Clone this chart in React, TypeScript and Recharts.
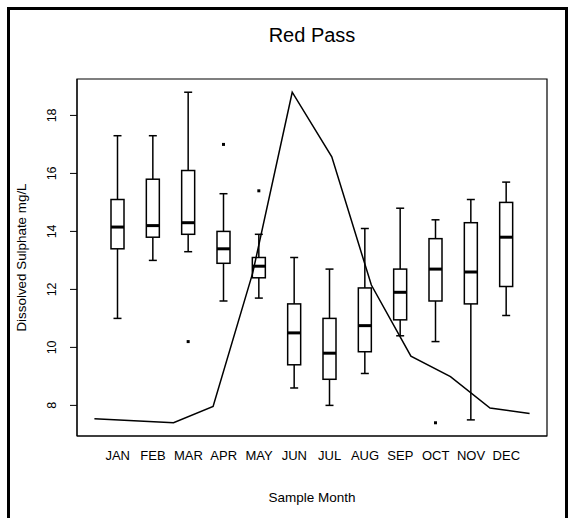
import { ComposedChart, Bar, Line, XAxis, YAxis, ReferenceArea } from "recharts";

const months = ["JAN", "FEB", "MAR", "APR", "MAY", "JUN", "JUL", "AUG", "SEP", "OCT", "NOV", "DEC"];
const lowWhisker = [11.0, 13.0, 13.3, 11.6, 11.7, 8.6, 8.0, 9.1, 10.4, 10.2, 7.5, 11.1];
const q1 = [13.4, 13.8, 13.9, 12.9, 12.4, 9.4, 8.9, 9.85, 10.95, 11.6, 11.5, 12.1];
const median = [14.15, 14.2, 14.3, 13.4, 12.8, 10.5, 9.8, 10.75, 11.9, 12.7, 12.6, 13.8];
const q3 = [15.1, 15.8, 16.1, 14.0, 13.1, 11.5, 11.0, 12.05, 12.7, 13.75, 14.3, 15.0];
const highWhisker = [17.3, 17.3, 18.8, 15.3, 13.9, 13.1, 12.7, 14.1, 14.8, 14.4, 15.1, 15.7];
const outliers = [[], [], [10.2], [17.0], [15.4], [], [], [], [], [7.4], [], []];
// monthly flow curve, read in the sulphate axis units
const flow = [7.54, 7.47, 7.4, 7.96, 12.56, 18.8, 16.57, 12.15, 9.7, 8.99, 7.91, 7.72];
const yTicks = [8, 10, 12, 14, 16, 18];
const yDomain = [6.944, 19.256];
const lineDomain = [0.56, 12.44];

const rows = months.map((month, i) => ({
  month,
  m: i + 1,
  lo: lowWhisker[i],
  q1: q1[i],
  med: median[i],
  q3: q3[i],
  hi: highWhisker[i],
  out: outliers[i],
  flow: flow[i],
}));

const font = "'Liberation Sans', Arial, Helvetica, sans-serif";

function BoxShape(props: any) {
  const { x, y, width, height, payload } = props;
  if (!payload) return null;
  const top = Math.min(y, y + height);
  const k = Math.abs(height) / (payload.hi - payload.lo);
  const py = (v: number) => top + (payload.hi - v) * k;
  const cx = x + width / 2;
  return (
    <g stroke="#000" fill="none">
      <line x1={cx} x2={cx} y1={py(payload.hi)} y2={py(payload.q3)} strokeWidth={1.5} />
      <line x1={cx} x2={cx} y1={py(payload.q1)} y2={py(payload.lo)} strokeWidth={1.5} />
      <line x1={cx - 4} x2={cx + 4} y1={py(payload.hi)} y2={py(payload.hi)} strokeWidth={1.5} />
      <line x1={cx - 4} x2={cx + 4} y1={py(payload.lo)} y2={py(payload.lo)} strokeWidth={1.5} />
      <rect x={x} y={py(payload.q3)} width={width} height={py(payload.q1) - py(payload.q3)} strokeWidth={1.5} fill="#fff" />
      <line x1={x} x2={x + width} y1={py(payload.med)} y2={py(payload.med)} strokeWidth={3} />
      {payload.out.map((v: number, j: number) => (
        <rect key={j} x={cx - 1.5} y={py(v) - 1.5} width={3} height={3} fill="#000" stroke="none" />
      ))}
    </g>
  );
}

function MonthTick(props: any) {
  const { x, payload } = props;
  return (
    <text x={x} y={460} textAnchor="middle" fontSize={13} fontFamily={font} fill="#000">
      {payload.value}
    </text>
  );
}

function ValueTick(props: any) {
  const { y, payload } = props;
  return (
    <text
      x={0}
      y={0}
      transform={`translate(55.5,${y}) rotate(-90)`}
      textAnchor="middle"
      fontSize={12.5}
      fontFamily={font}
      fill="#000"
    >
      {payload.value}
    </text>
  );
}

export default function App() {
  return (
    <div
      style={{
        position: "fixed",
        left: 0,
        top: 0,
        width: 576,
        height: 518,
        overflow: "hidden",
        background: "#fff",
      }}
    >
      <div
        style={{
          position: "absolute",
          left: 7,
          top: 7,
          width: 561,
          height: 600,
          borderTop: "3px solid #000",
          borderLeft: "3px solid #000",
          borderRight: "3px solid #000",
          borderBottom: "none",
          boxSizing: "border-box",
        }}
      />
      <div style={{ position: "absolute", left: 0, top: 0 }}>
        <ComposedChart
          width={576}
          height={518}
          data={rows}
          margin={{ top: 79, right: 29, bottom: 52, left: 0 }}
        >
          <XAxis
            xAxisId="box"
            dataKey="month"
            type="category"
            padding={{ left: 23, right: 23 }}
            height={30}
            axisLine={{ stroke: "#000" }}
            tickLine={false}
            tickSize={0}
            tick={<MonthTick />}
            interval={0}
          />
          <XAxis
            xAxisId="line"
            dataKey="m"
            type="number"
            domain={lineDomain}
            allowDataOverflow
            hide
          />
          <YAxis
            yAxisId="left"
            type="number"
            domain={yDomain}
            allowDataOverflow
            ticks={yTicks}
            width={77}
            axisLine={{ stroke: "#000" }}
            tickLine={{ stroke: "#000" }}
            tickSize={7}
            tick={<ValueTick />}
          />
          <ReferenceArea
            xAxisId="line"
            yAxisId="left"
            x1={lineDomain[0]}
            x2={lineDomain[1]}
            y1={yDomain[0]}
            y2={yDomain[1]}
            fill="none"
            fillOpacity={0}
            stroke="#000"
            strokeWidth={1.2}
            ifOverflow="visible"
          />
          <Bar
            xAxisId="box"
            yAxisId="left"
            dataKey={(d: any) => [d.lo, d.hi]}
            barSize={13}
            shape={<BoxShape />}
            isAnimationActive={false}
          />
          <Line
            xAxisId="line"
            yAxisId="left"
            dataKey="flow"
            type="linear"
            stroke="#000"
            strokeWidth={1.5}
            dot={false}
            activeDot={false}
            isAnimationActive={false}
          />
        </ComposedChart>
      </div>
      <svg
        width={576}
        height={518}
        style={{ position: "absolute", left: 0, top: 0, pointerEvents: "none" }}
      >
        <text x={312} y={42} textAnchor="middle" fontSize={20} fontFamily={font} fill="#000">
          Red Pass
        </text>
        <text
          x={0}
          y={0}
          transform="translate(26,257.5) rotate(-90)"
          textAnchor="middle"
          fontSize={13.4}
          fontFamily={font}
          fill="#000"
        >
          Dissolved Sulphate mg/L
        </text>
        <text x={312} y={501.5} textAnchor="middle" fontSize={13.5} fontFamily={font} fill="#000">
          Sample Month
        </text>
      </svg>
    </div>
  );
}
